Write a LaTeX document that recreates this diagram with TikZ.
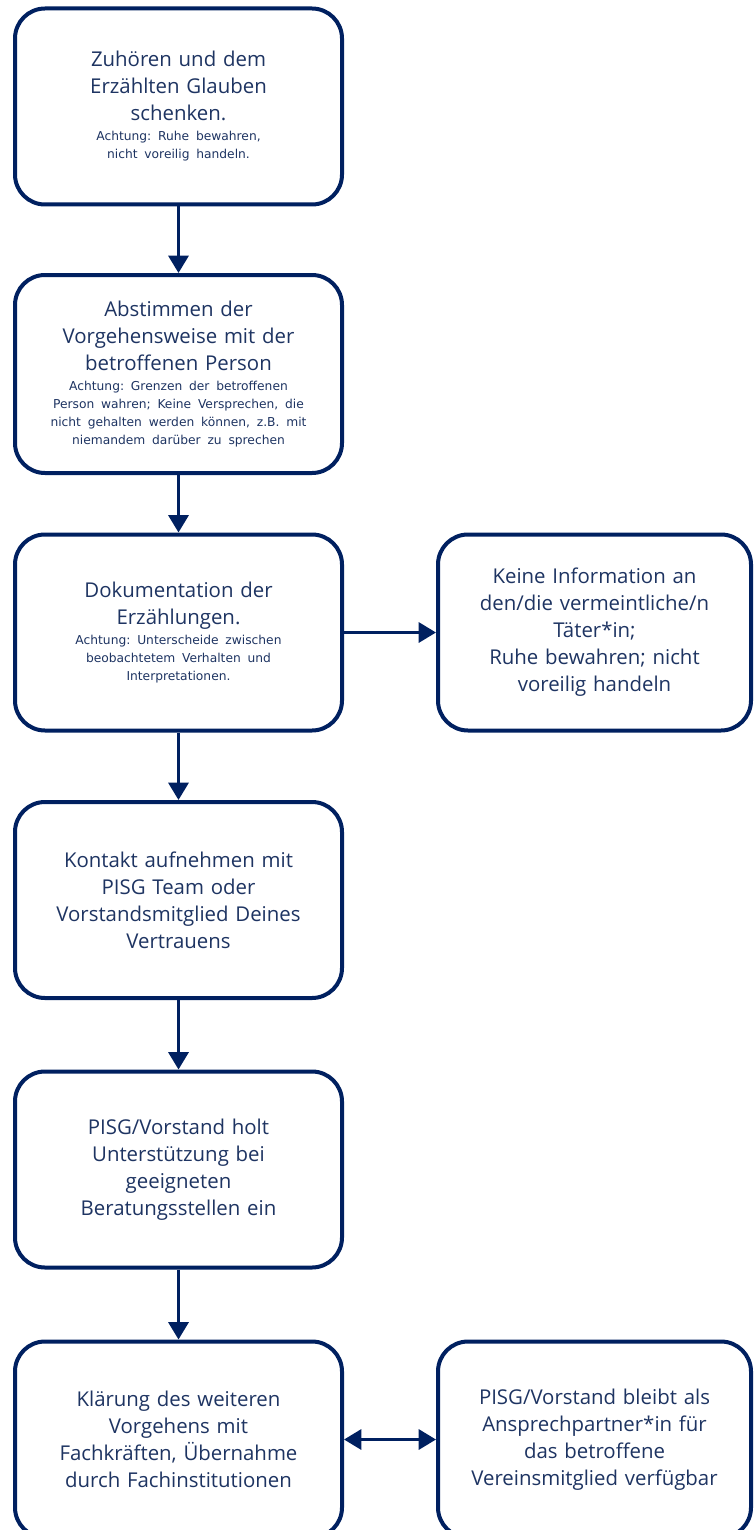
\documentclass[tikz,border=0pt]{standalone}
\usepackage{fontspec}
\newfontfamily\mainf{Open Sans}
\newfontfamily\smallf{DejaVu Sans}
\usetikzlibrary{arrows.meta}
\frenchspacing
\definecolor{navy}{RGB}{0,32,96}
\definecolor{txt}{RGB}{30,52,98}
\newcommand{\mtxt}{\mainf\fontsize{15.3}{20.25}\selectfont}
\newcommand{\stxt}{\smallf\fontsize{9.2}{13.5}\selectfont}
\newcommand{\smallpart}[1]{\par\vspace{1.5pt}{\stxt #1\par}}
\tikzset{
  box/.style={draw=navy, line width=3pt, rounded corners=22.5pt, fill=white,
    minimum width=245.25pt, minimum height=147pt, text width=235pt,
    align=center, text=txt, inner sep=0pt, font=\mtxt},
  rbox/.style={box, minimum width=234.75pt, text width=225pt},
  arr/.style={draw=navy, line width=2.4pt, -{Triangle[length=13pt,width=15pt]}},
  darr/.style={draw=navy, line width=2.4pt, {Triangle[length=13pt,width=15pt]}-{Triangle[length=13pt,width=15pt]}}
}
\begin{document}
\begin{tikzpicture}[x=0.75pt,y=-0.75pt]
\useasboundingbox (0,0) rectangle (755,1530);
\clip (0,0) rectangle (755,1530);
\node[box] (b1) at (178.5,106.5) {Zuhören und dem\\Erzählten Glauben\\schenken.\smallpart{Achtung: Ruhe bewahren,\\nicht voreilig handeln.}};
\node[box, minimum height=148.5pt] (b2) at (178.5,374) {Abstimmen der\\Vorgehensweise mit der\\betroffenen Person\smallpart{Achtung: Grenzen der betroffenen\\Person wahren; Keine Versprechen, die\\nicht gehalten werden können, z.B. mit\\niemandem darüber zu sprechen}};
\node[box] (b3) at (178.5,632.5) {Dokumentation der\\Erzählungen.\smallpart{Achtung: Unterscheide zwischen\\beobachtetem Verhalten und\\Interpretationen.}};
\node[rbox] (r3) at (594.5,632.5) {Keine Information an\\den/die vermeintliche/n\\Täter*in;\\Ruhe bewahren; nicht\\voreilig handeln};
\node[box] (b4) at (178.5,900) {Kontakt aufnehmen mit\\PISG Team oder\\Vorstandsmitglied Deines\\Vertrauens};
\node[box] (b5) at (178.5,1169.5) {PISG/Vorstand holt\\Unterstützung bei\\geeigneten\\Beratungsstellen ein};
\node[box] (b6) at (178.5,1439.5) {Klärung des weiteren\\Vorgehens mit\\Fachkräften, Übernahme\\durch Fachinstitutionen};
\node[rbox] (r6) at (594.5,1439.5) {PISG/Vorstand bleibt als\\Ansprechpartner*in für\\das betroffene\\Vereinsmitglied verfügbar};
\draw[arr] (b1) -- (b2);
\draw[arr] (b2) -- (b3);
\draw[arr] (b3) -- (r3);
\draw[arr] (b3) -- (b4);
\draw[arr] (b4) -- (b5);
\draw[arr] (b5) -- (b6);
\draw[darr] (b6) -- (r6);
\end{tikzpicture}
\end{document}
